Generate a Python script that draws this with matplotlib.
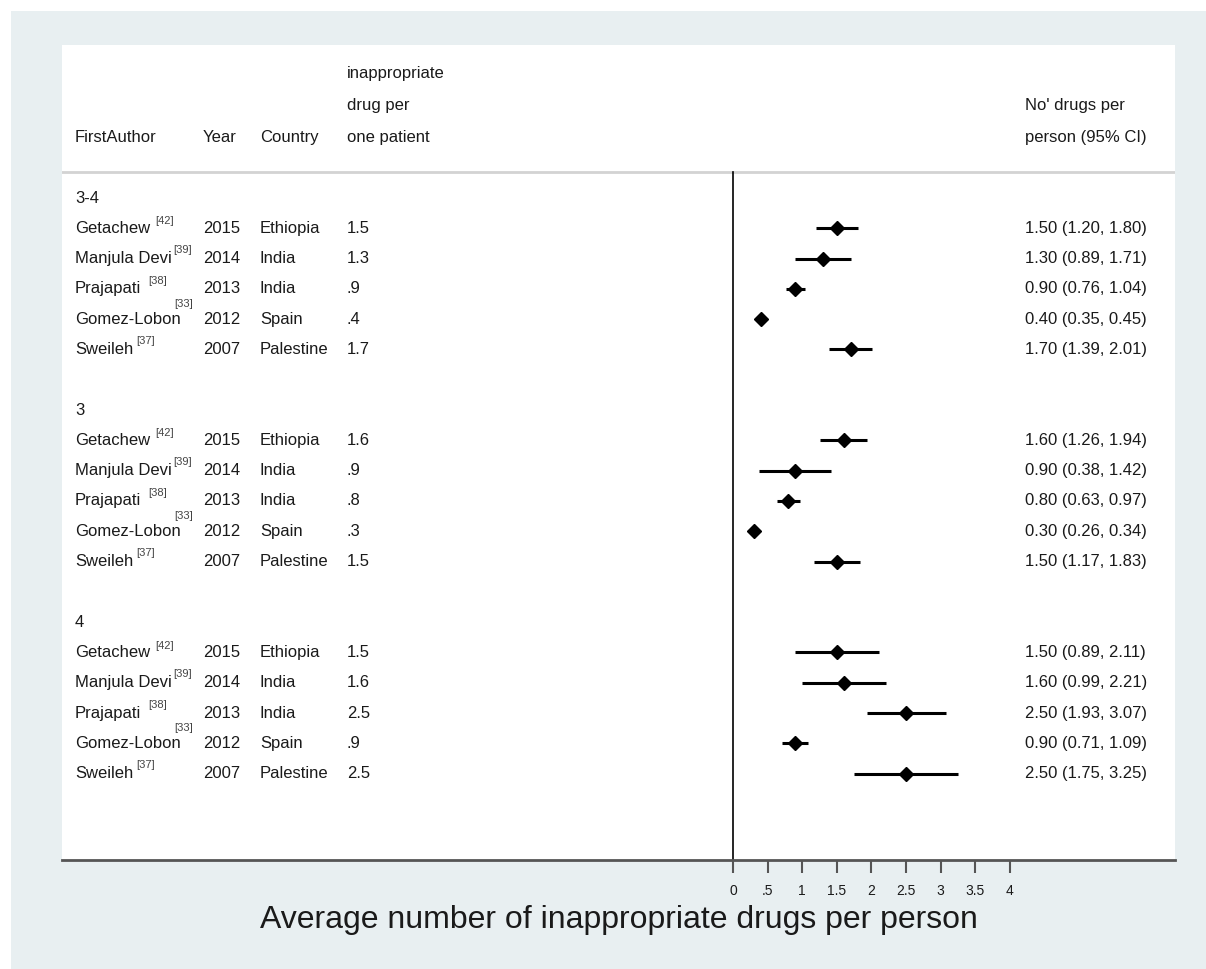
import matplotlib
matplotlib.use("Agg")
import matplotlib.pyplot as plt
from matplotlib.patches import Rectangle

plt.rcParams['font.family'] = ['Liberation Sans', 'DejaVu Sans']

# data
groups = ['3-4', '3', '4']
authors = ['Getachew', 'Manjula Devi', 'Prajapati', 'Gomez-Lobon', 'Sweileh']
refs = ['[42]', '[39]', '[38]', '[33]', '[37]']
years = [2015, 2014, 2013, 2012, 2007]
countries = ['Ethiopia', 'India', 'India', 'Spain', 'Palestine']

est = [[1.50, 1.30, 0.90, 0.40, 1.70],
       [1.60, 0.90, 0.80, 0.30, 1.50],
       [1.50, 1.60, 2.50, 0.90, 2.50]]
lo = [[1.20, 0.89, 0.76, 0.35, 1.39],
      [1.26, 0.38, 0.63, 0.26, 1.17],
      [0.89, 0.99, 1.93, 0.71, 1.75]]
hi = [[1.80, 1.71, 1.04, 0.45, 2.01],
      [1.94, 1.42, 0.97, 0.34, 1.83],
      [2.11, 2.21, 3.07, 1.09, 3.25]]

xticks = [0, .5, 1, 1.5, 2, 2.5, 3, 3.5, 4]
xticklabels = ['0', '.5', '1', '1.5', '2', '2.5', '3', '3.5', '4']

# superscript offsets (points) after each author name
sup_dx = {'Getachew': 4, 'Manjula Devi': 1, 'Prajapati': 5, 'Gomez-Lobon': -5, 'Sweileh': 2}
sup_dy = {'Getachew': 5, 'Manjula Devi': 6, 'Prajapati': 6, 'Gomez-Lobon': 11, 'Sweileh': 6}

W, H = 1206, 969
fig = plt.figure(figsize=(W / 100, H / 100), dpi=100, facecolor='white')
fig.patches.append(Rectangle((11 / W, 0), 1 - 11 / W, 1 - 11 / H, transform=fig.transFigure,
                             facecolor='#e8eff1', edgecolor='none', zorder=-10))

ax = fig.add_axes([62 / W, (H - 860) / H, 1113 / W, 815 / H])
ax.set_facecolor('white')

px = 69.25  # pixels per unit


def xp(p):
    return (p - 733) / px


ax.set_xlim(xp(62), xp(1175))
ax.set_ylim(21.85, -5.05)

fs = 12
tc = '#1a1a1a'
col_author, col_year, col_country, col_val, col_ci = xp(75), xp(203), xp(260), xp(347), xp(1025)

# header
ax.text(col_author, -2.0, 'FirstAuthor', fontsize=fs, va='center', color=tc)
ax.text(col_year, -2.0, 'Year', fontsize=fs, va='center', color=tc)
ax.text(col_country, -2.0, 'Country', fontsize=fs, va='center', color=tc)
ax.text(col_val, -4.1, 'inappropriate', fontsize=fs, va='center', color=tc)
ax.text(col_val, -3.05, 'drug per', fontsize=fs, va='center', color=tc)
ax.text(col_val, -2.0, 'one patient', fontsize=fs, va='center', color=tc)
ax.text(col_ci, -3.05, "No' drugs per", fontsize=fs, va='center', color=tc)
ax.text(col_ci, -2.0, 'person (95% CI)', fontsize=fs, va='center', color=tc)
ax.axhline(-0.86, color='#d3d3d3', lw=2, zorder=1)

row = 0
for g, name in enumerate(groups):
    ax.text(col_author, row, name, fontsize=fs, va='center', color=tc)
    row += 1
    for i in range(len(authors)):
        t = ax.text(col_author, row, authors[i], fontsize=fs, va='center', color=tc)
        ax.annotate(refs[i], xy=(1, 0.5), xycoords=t, xytext=(sup_dx[authors[i]], sup_dy[authors[i]]),
                    textcoords='offset points', fontsize=8, color='#444444', va='center', ha='left')
        ax.text(col_year, row, str(years[i]), fontsize=fs, va='center', color=tc)
        ax.text(col_country, row, countries[i], fontsize=fs, va='center', color=tc)
        ax.text(col_val, row, f'{est[g][i]:.1f}'.lstrip('0'), fontsize=fs, va='center', color=tc)
        ax.text(col_ci, row, f'{est[g][i]:.2f} ({lo[g][i]:.2f}, {hi[g][i]:.2f})', fontsize=fs,
                va='center', color=tc)
        ax.plot([lo[g][i], hi[g][i]], [row, row], color='black', lw=2.2, solid_capstyle='butt', zorder=3)
        ax.plot(est[g][i], row, marker='D', ms=7.5, color='black', zorder=4)
        row += 1
    row += 1

ax.axvline(0, ymin=0, ymax=(860 - 172) / 815, color='black', lw=1.2, zorder=2)

for s in ['top', 'left', 'right']:
    ax.spines[s].set_visible(False)
ax.spines['bottom'].set_color('#555555')
ax.spines['bottom'].set_linewidth(2)
ax.set_yticks([])
ax.set_xticks(xticks)
ax.set_xticklabels(xticklabels, fontsize=10, color=tc)
ax.tick_params(axis='x', length=9, width=1.5, color='#555555', pad=8)
ax.set_xlabel('Average number of inappropriate drugs per person', fontsize=23, labelpad=5, color=tc)

fig.savefig('out.png', dpi=100, facecolor=fig.get_facecolor())
